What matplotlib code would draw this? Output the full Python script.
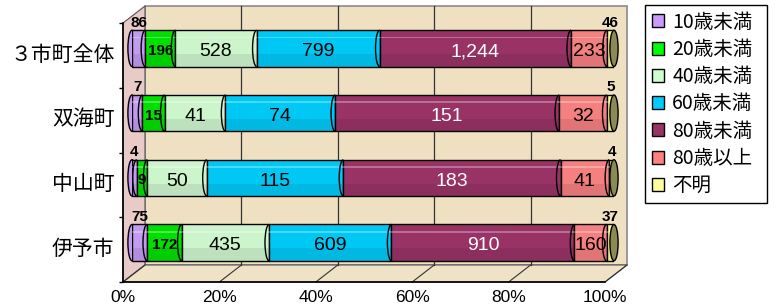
import numpy as np
import matplotlib.pyplot as plt
from matplotlib.patches import Polygon, Ellipse, Rectangle, Arc

plt.rcParams['font.family'] = ['Noto Sans CJK JP', 'DejaVu Sans']

# data (bottom to top)
regions = ['伊予市', '中山町', '双海町', '３市町全体']
groups = ['10歳未満', '20歳未満', '40歳未満', '60歳未満', '80歳未満', '80歳以上', '不明']
u10 = [75, 4, 7, 86]
u20 = [172, 9, 15, 196]
u40 = [435, 50, 41, 528]
u60 = [609, 115, 74, 799]
u80 = [910, 183, 151, 1244]
o80 = [160, 41, 32, 233]
unknown = [37, 4, 5, 46]
ticks = [0, 20, 40, 60, 80, 100]

colors = ['#C39BF0', '#00E000', '#CCF5CC', '#00C8F5', '#993366', '#F58080', '#FFFF99']
legend_colors = ['#CC99FF', '#00FF00', '#CCFFCC', '#00CCFF', '#993366', '#FF8080', '#FFFF99']

counts = np.array([u10, u20, u40, u60, u80, o80, unknown], dtype=float)
pct = counts / counts.sum(axis=0) * 100

# geometry in pixels
W, H = 776, 308
FL, FR, FT, FB = 123, 605, 23, 282   # front plane
DX, DY = 22, 17                      # depth of the box
BX, BY = 9, 7                        # bars sit a bit behind the front

fig = plt.figure(figsize=(W / 100, H / 100), dpi=100)


def px_axes(l, t, r, b):
    return fig.add_axes([l / W, 1 - b / H, (r - l) / W, (b - t) / H])


# background drawing (walls, floor) in pixel coords
bg = px_axes(0, 0, W, H)
bg.set_xlim(0, W)
bg.set_ylim(H, 0)
bg.axis('off')

wall = '#EFE0C2'
bg.add_patch(Rectangle((FL + DX, FT - DY), FR - FL, FB - FT, facecolor=wall,
                       edgecolor='#8a8a8a', lw=1.2))
bg.add_patch(Polygon([(FL, FT), (FL + DX, FT - DY), (FL + DX, FB - DY), (FL, FB)],
                     closed=True, facecolor='#E8CAC6', edgecolor='#555555', lw=0.8))
bg.add_patch(Polygon([(FL, FB), (FL + DX, FB - DY), (FR + DX, FB - DY), (FR, FB)],
                     closed=True, facecolor='#F0E2C6', edgecolor='#555555', lw=0.8))


def front_x(t):
    return FL + (FR - FL) * t / 100


for t in ticks:
    bg.plot([front_x(t), front_x(t) + DX], [FB, FB - DY], color='#333333', lw=0.8)
    if 0 < t < 100:
        bg.plot([front_x(t) + DX] * 2, [FT - DY, FB - DY], color='#333333', lw=0.9)
bg.plot([FL, FL], [FT, FB], color='black', lw=1.2)
bg.plot([FL, FR], [FB, FB], color='black', lw=1.2)

# front axis: tick labels and category labels
ax_f = px_axes(FL, FT, FR, FB)
ax_f.set_xlim(0, 100)
ax_f.set_ylim(-0.5, len(regions) - 0.5)
ax_f.patch.set_visible(False)
for s in ax_f.spines.values():
    s.set_visible(False)
ax_f.set_xticks(ticks)
ax_f.set_xticklabels([f'{t}%' for t in ticks], fontsize=12.5, family='Liberation Sans')
ax_f.tick_params(axis='x', length=0, pad=6)
ax_f.set_yticks(np.arange(len(regions)) + 0.05)
ax_f.set_yticklabels(regions, fontsize=15)
ax_f.tick_params(axis='y', length=0, pad=6)
ax_f.set_yticks(np.arange(len(regions) + 1) - 0.5, minor=True)
ax_f.tick_params(axis='y', which='minor', length=3, width=1)

# bars
ax = px_axes(FL + BX, FT - BY, FR + BX, FB - BY)
ax.set_xlim(0, 100)
ax.set_ylim(-0.5, len(regions) - 0.5)
ax.axis('off')

y = np.arange(len(regions))
h = 0.56
cw = 1.7  # width of the elliptic ends, in percent
left = np.zeros(len(regions))
for i, g in enumerate(groups):
    ax.barh(y, pct[i], left=left, height=h, color=colors[i], edgecolor='black', lw=1, zorder=2)
    # cylinder shading
    ax.barh(y - h * 0.33, pct[i], left=left, height=h * 0.34, color='black', alpha=0.08, lw=0, zorder=3)
    ax.barh(y + h * 0.3, pct[i], left=left, height=h * 0.05, color='white', alpha=0.3, lw=0, zorder=3)
    for j in range(len(regions)):
        if i > 0:
            ax.add_patch(Arc((left[j], y[j]), cw, h, theta1=90, theta2=270,
                             color='black', lw=1, zorder=4))
        c = left[j] + pct[i][j] / 2
        val = f'{int(counts[i][j]):,}'
        if i in (0, 6):
            ax.text(c, y[j] + h / 2 + 0.01, val, ha='center', va='bottom', fontsize=11,
                    fontweight='bold', family='Liberation Sans', zorder=5)
        elif i == 1:
            ax.text(c, y[j] - 0.04, val, ha='center', va='center', fontsize=11,
                    fontweight='bold', family='Liberation Sans', zorder=5)
        else:
            ax.text(c, y[j] - 0.05, val, ha='center', va='center', fontsize=14,
                    color='white' if i == 4 else 'black', family='Liberation Sans', zorder=5)
    left += pct[i]

# rounded ends of the cylinders
for j in range(len(regions)):
    ax.add_patch(Ellipse((100, y[j]), cw, h, facecolor='#8A8A55', edgecolor='black',
                         lw=1, zorder=4, clip_on=False))
    ax.add_patch(Ellipse((0, y[j]), cw, h, facecolor=colors[0], edgecolor='black',
                         lw=1, zorder=1, clip_on=False))

# legend
handles = [Rectangle((0, 0), 1, 1, facecolor=c, edgecolor='black', lw=1) for c in legend_colors]
fig.legend(handles, groups, loc='upper left',
           bbox_to_anchor=(645 / W, 1 - 5 / H - 0.01, 122 / W, 0.01),
           mode='expand', fontsize=14, frameon=True, fancybox=False, edgecolor='black',
           framealpha=1, handlelength=0.65, handleheight=0.65, handletextpad=0.4,
           labelspacing=0.32, borderpad=0.35, borderaxespad=0)

fig.savefig('out.png', dpi=100)
